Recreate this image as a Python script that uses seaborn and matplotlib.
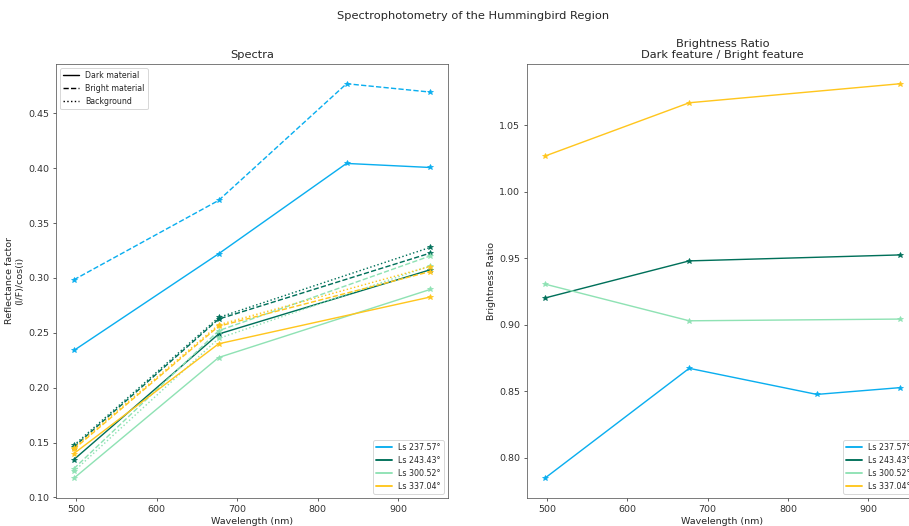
import numpy as np
import pandas as pd
import matplotlib
matplotlib.use("Agg")
import matplotlib.pyplot as plt
from matplotlib.lines import Line2D
import seaborn as sns

# ---------------- data ----------------
wavelengths = [497, 677, 836, 940]
ls_labels = ["Ls 237.57°", "Ls 243.43°", "Ls 300.52°", "Ls 337.04°"]
colors = ["#0aaeef", "#00705a", "#8fe2b4", "#ffc61e"]
materials = ["Dark material", "Bright material", "Background"]

dark_237 = [0.2339, 0.3220, 0.4043, 0.4006]
dark_243 = [0.1345, 0.2489, np.nan, 0.3074]
dark_300 = [0.1175, 0.2275, np.nan, 0.2895]
dark_337 = [0.1400, 0.2400, np.nan, 0.2826]

bright_237 = [0.2983, 0.3706, 0.4769, 0.4693]
bright_243 = [0.1460, 0.2625, np.nan, 0.3226]
bright_300 = [0.1262, 0.2519, np.nan, 0.3200]
bright_337 = [0.1440, 0.2560, np.nan, 0.3058]

bg_243 = [0.1475, 0.2640, np.nan, 0.3278]
bg_300 = [0.1237, 0.2449, np.nan, 0.3110]
bg_337 = [0.1452, 0.2573, np.nan, 0.3104]

ratio_237 = [0.7847, 0.8673, 0.8477, 0.8528]
ratio_243 = [0.9201, 0.9480, np.nan, 0.9525]
ratio_300 = [0.9306, 0.9030, np.nan, 0.9043]
ratio_337 = [1.0267, 1.0668, np.nan, 1.0811]

spectra = {
    ("Ls 237.57°", "Dark material"): dark_237,
    ("Ls 243.43°", "Dark material"): dark_243,
    ("Ls 300.52°", "Dark material"): dark_300,
    ("Ls 337.04°", "Dark material"): dark_337,
    ("Ls 237.57°", "Bright material"): bright_237,
    ("Ls 243.43°", "Bright material"): bright_243,
    ("Ls 300.52°", "Bright material"): bright_300,
    ("Ls 337.04°", "Bright material"): bright_337,
    ("Ls 243.43°", "Background"): bg_243,
    ("Ls 300.52°", "Background"): bg_300,
    ("Ls 337.04°", "Background"): bg_337,
}
ratios = {
    "Ls 237.57°": ratio_237,
    "Ls 243.43°": ratio_243,
    "Ls 300.52°": ratio_300,
    "Ls 337.04°": ratio_337,
}

rows = []
for (ls, mat), vals in spectra.items():
    for w, v in zip(wavelengths, vals):
        if not np.isnan(v):
            rows.append({"Ls": ls, "material": mat, "wavelength": w, "value": v})
df_spec = pd.DataFrame(rows)

rows = []
for ls, vals in ratios.items():
    for w, v in zip(wavelengths, vals):
        if not np.isnan(v):
            rows.append({"Ls": ls, "wavelength": w, "ratio": v})
df_ratio = pd.DataFrame(rows)

# ---------------- figure ----------------
sns.set_style("ticks")
plt.rcParams["font.family"] = ["DejaVu Sans"]
DPI = 68
fig = plt.figure(figsize=(909 / DPI, 526 / DPI), dpi=DPI)

ax1 = fig.add_axes([56 / 909, 28 / 526, 392 / 909, 434 / 526])
ax2 = fig.add_axes([527 / 909, 28 / 526, 391 / 909, 434 / 526])

palette = dict(zip(ls_labels, colors))
dashes = {"Dark material": "", "Bright material": (3.7, 1.6), "Background": (1, 1.65)}
markers = {m: "*" for m in materials}

sns.lineplot(data=df_spec, x="wavelength", y="value", hue="Ls", style="material",
             hue_order=ls_labels, style_order=materials, palette=palette,
             dashes=dashes, markers=markers, markersize=6, linewidth=1.5,
             errorbar=None, sort=True, legend=False, ax=ax1)

sns.lineplot(data=df_ratio, x="wavelength", y="ratio", hue="Ls",
             hue_order=ls_labels, palette=palette, marker="*", markersize=6,
             linewidth=1.5, errorbar=None, legend=False, ax=ax2)

for ax in (ax1, ax2):
    for ln in ax.lines:
        ln.set_markeredgecolor(ln.get_color())
        ln.set_markeredgewidth(0.75)
    for sp in ax.spines.values():
        sp.set_visible(True)
        sp.set_color("#555555")

ax1.set_title("Spectra", fontsize=12)
ax1.set_xlabel("Wavelength (nm)", fontsize=10)
ax1.set_ylabel("Reflectance factor\n(I/F)/cos(i)", fontsize=10)
ax1.set_yticks([0.10, 0.15, 0.20, 0.25, 0.30, 0.35, 0.40, 0.45])

ax2.set_title("Brightness Ratio\nDark feature / Bright feature", fontsize=12)
ax2.set_xlabel("Wavelength (nm)", fontsize=10)
ax2.set_ylabel("Brightness Ratio", fontsize=10)

for ax in (ax1, ax2):
    ax.set_xticks([500, 600, 700, 800, 900])
    ax.tick_params(labelsize=10, colors="#333333")

style_handles = [
    Line2D([], [], color="black", linestyle="-", linewidth=1.5),
    Line2D([], [], color="black", linestyle="--", linewidth=1.5),
    Line2D([], [], color="black", linestyle=":", linewidth=1.5),
]
leg1 = ax1.legend(style_handles, materials, loc="upper left", fontsize="small")
ax1.add_artist(leg1)

ls_handles = [Line2D([], [], color=c, linewidth=2) for c in colors]
ax1.legend(ls_handles, ls_labels, loc="lower right", fontsize="small")
ax2.legend(ls_handles, ls_labels, loc="lower right", fontsize="small")

fig.suptitle("Spectrophotometry of the Hummingbird Region", x=473 / 909, y=0.98, fontsize=12)

fig.savefig("out.png", dpi=DPI)
